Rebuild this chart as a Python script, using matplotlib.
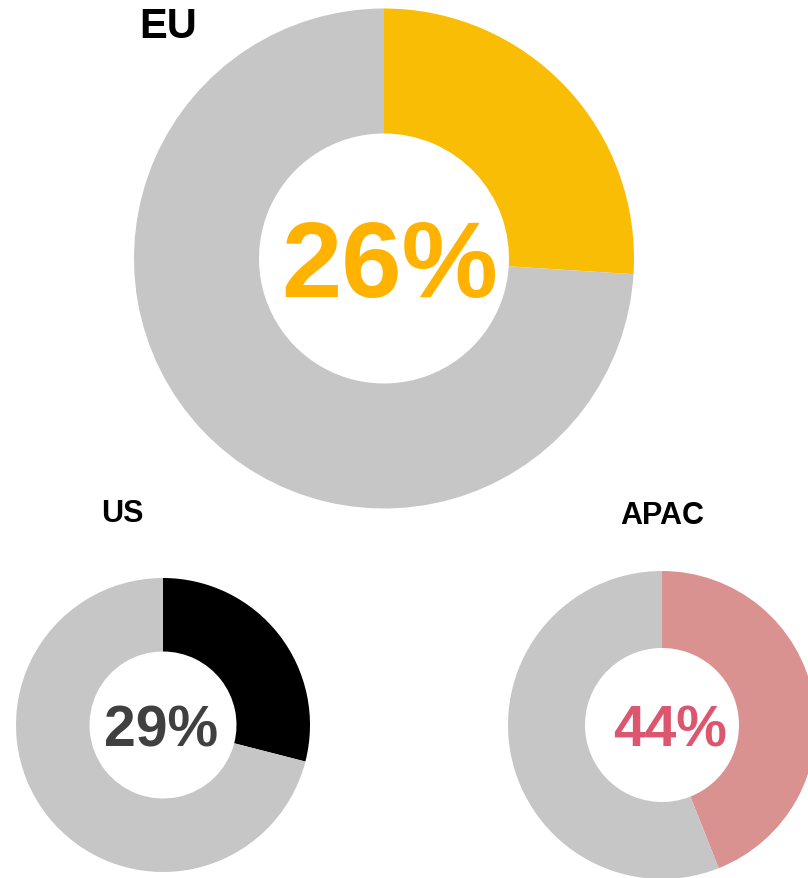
import matplotlib
matplotlib.use("Agg")
import matplotlib.pyplot as plt

plt.rcParams['font.family'] = ['Liberation Sans', 'DejaVu Sans']

# Share of each region (percent)
regions = ["EU", "US", "APAC"]
shares = [26, 29, 44]
accent_colors = ["#FABD05", "#000000", "#D99290"]
label_colors = ["#FFB300", "#404040", "#DC5670"]
rest_color = "#C6C6C6"

W, H = 808, 879
fig = plt.figure(figsize=(W / 100, H / 100), dpi=100)
ax = fig.add_axes([0, 0, 1, 1])

# layout in pixel units (y measured from the top)
centers = [(384, 259.5), (163, 726), (662, 726)]
radii = [250, 147, 154]
title_pos = [(168, 27), (122, 514), (662, 516)]
title_sizes = [30, 22, 22]
value_pos = [(390, 297), (161.5, 747), (670, 747)]
value_sizes = [78, 41, 41]

for name, share, acc, lc, (cx, cy), r, (tx, ty), ts, (vx, vy), vs in zip(
        regions, shares, accent_colors, label_colors, centers, radii,
        title_pos, title_sizes, value_pos, value_sizes):
    ax.pie([share, 100 - share], colors=[acc, rest_color],
           center=(cx, H - cy), radius=r, startangle=90, counterclock=False,
           wedgeprops=dict(width=r / 2, linewidth=0))
    ax.text(vx, H - vy, f"{share}%", ha="center", va="baseline",
            fontsize=vs, fontweight="bold", color=lc)
    ax.text(tx, H - ty, name, ha="center", va="center",
            fontsize=ts, fontweight="bold", color="black")

ax.set_xlim(0, W)
ax.set_ylim(0, H)
ax.set_aspect("auto")
ax.axis("off")

fig.savefig("out.png", dpi=100)
